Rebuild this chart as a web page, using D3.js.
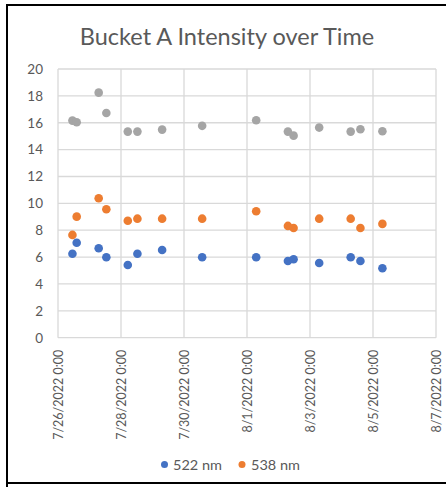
<!DOCTYPE html>
<html><head><meta charset="utf-8">
<script src="https://cdn.jsdelivr.net/npm/d3@7"></script>
<style>body{margin:0;background:#fff}svg{display:block}</style>
</head><body>
<svg id="c" width="446" height="487"></svg>
<script>
const times = ["2022-07-26T11:00","2022-07-26T14:15","2022-07-27T07:00","2022-07-27T12:50","2022-07-28T05:10","2022-07-28T12:30","2022-07-29T07:20","2022-07-30T13:50","2022-08-01T07:00","2022-08-02T07:10","2022-08-02T11:30","2022-08-03T07:00","2022-08-04T07:00","2022-08-04T14:25","2022-08-05T07:10"];
const s522 = [6.25,7.07,6.66,5.99,5.41,6.25,6.53,5.99,5.99,5.71,5.84,5.56,5.99,5.71,5.17];
const s538 = [7.65,9.01,10.38,9.56,8.71,8.86,8.86,8.86,9.41,8.32,8.17,8.86,8.86,8.17,8.47];
const sGray = [16.16,16.04,18.24,16.73,15.34,15.34,15.49,15.77,16.19,15.34,15.04,15.64,15.34,15.52,15.37];
const xTicks = ["2022-07-26T00:00","2022-07-28T00:00","2022-07-30T00:00","2022-08-01T00:00","2022-08-03T00:00","2022-08-05T00:00","2022-08-07T00:00"];
const yTicks = [0,2,4,6,8,10,12,14,16,18,20];
const seriesNames = ["522 nm","538 nm"];
const colors = {"522":"#4472c4","538":"#ed7d31","gray":"#a5a5a5"};

const parse = d3.timeParse("%Y-%m-%dT%H:%M");
const fmt = d => `${d.getMonth()+1}/${d.getDate()}/${d.getFullYear()} 0:00`;
const svg = d3.select("#c");
const font = "Lato, 'Open Sans', sans-serif";

// frame
svg.append("path").attr("d","M7,487 V5 H446").attr("fill","none").attr("stroke","#000").attr("stroke-width",2);
svg.append("line").attr("x1",6).attr("x2",446).attr("y1",483).attr("y2",483).attr("stroke","#000").attr("stroke-width",2);

const x = d3.scaleTime().domain([parse(xTicks[0]), parse(xTicks[xTicks.length-1])]).range([58,436]);
const y = d3.scaleLinear().domain([0,20]).range([337.7,69]);

// grid
const g = svg.append("g");
g.selectAll(".hg").data(yTicks).join("line").attr("x1",58).attr("x2",436)
  .attr("y1",d=>y(d)).attr("y2",d=>y(d)).attr("stroke","#d9d9d9").attr("stroke-width",1.3);
g.selectAll(".vg").data(xTicks).join("line").attr("y1",69).attr("y2",337.7)
  .attr("x1",d=>x(parse(d))).attr("x2",d=>x(parse(d))).attr("stroke","#d9d9d9").attr("stroke-width",1.3);

// y axis labels
const yAxis = d3.axisLeft(y).tickValues(yTicks).tickSize(0).tickPadding(15);
const ya = svg.append("g").attr("transform","translate(58,0)").call(yAxis);
ya.select(".domain").remove();
ya.selectAll("text").attr("font-family",font).attr("font-size",13.5).attr("fill","#595959");

// x axis labels
const xAxis = d3.axisBottom(x).tickValues(xTicks.map(parse)).tickFormat(fmt).tickSize(0);
const xa = svg.append("g").attr("transform","translate(0,337.7)").call(xAxis);
xa.select(".domain").remove();
xa.selectAll("text").attr("font-family",font).attr("font-size",12.5).attr("fill","#595959")
  .attr("transform","rotate(-90)").attr("text-anchor","end").attr("x",-12).attr("y",0).attr("dy","0.35em");

// points
const sets = [["gray",sGray],["538",s538],["522",s522]];
sets.forEach(([k,vals])=>{
  svg.append("g").selectAll("circle").data(vals).join("circle")
    .attr("cx",(d,i)=>x(parse(times[i]))).attr("cy",d=>y(d)).attr("r",4.3).attr("fill",colors[k]);
});

// title
svg.append("text").attr("x",227).attr("y",45).attr("text-anchor","middle")
  .attr("font-family",font).attr("font-size",23.5).attr("fill","#595959").text("Bucket A Intensity over Time");

// legend
const leg = svg.append("g");
[["522",164.5,173],["538",242,251]].forEach(([k,cx,tx],i)=>{
  leg.append("circle").attr("cx",cx).attr("cy",464.5).attr("r",3.5).attr("fill",colors[k]);
  leg.append("text").attr("x",tx).attr("y",469.5).attr("font-family",font).attr("font-size",14)
    .attr("textLength",49).attr("lengthAdjust","spacingAndGlyphs").attr("fill","#595959").text(seriesNames[i]);
});
</script>
</body></html>
